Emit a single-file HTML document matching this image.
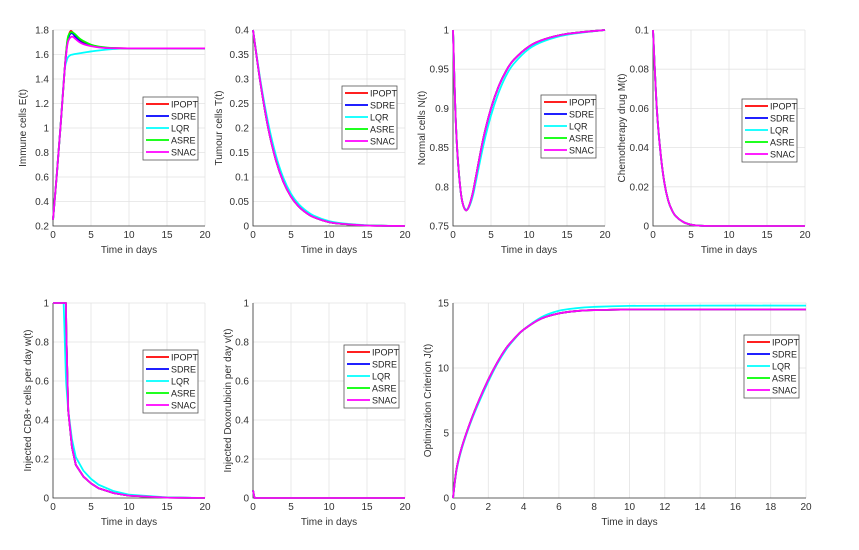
<!DOCTYPE html>
<html><head><meta charset="utf-8"><style>
html,body{margin:0;padding:0;background:#fff;}
svg{display:block;font-family:"Liberation Sans",Arial,sans-serif;}
</style></head><body>
<svg id="fig" width="859" height="550" viewBox="0 0 859 550"></svg>
<script>
// ---- Data ----
const seriesNames = ["IPOPT","SDRE","LQR","ASRE","SNAC"];
// Immune cells E(t)
const tE = [0,0.5,1,1.5,1.8,2,2.3,2.6,3,3.5,4,5,6,7,8,10,15,20];
const E_IPOPT = [0.25,0.62,1.02,1.45,1.66,1.74,1.79,1.78,1.75,1.72,1.70,1.675,1.662,1.655,1.652,1.65,1.65,1.65];
const E_SDRE  = [0.25,0.62,1.02,1.45,1.65,1.73,1.77,1.77,1.74,1.71,1.69,1.672,1.660,1.654,1.651,1.65,1.65,1.65];
const E_LQR   = [0.25,0.62,1.02,1.45,1.55,1.58,1.595,1.60,1.605,1.61,1.615,1.625,1.633,1.64,1.645,1.65,1.65,1.65];
const E_ASRE  = [0.25,0.62,1.02,1.45,1.67,1.75,1.78,1.78,1.76,1.73,1.71,1.68,1.665,1.657,1.652,1.65,1.65,1.65];
const E_SNAC  = [0.25,0.62,1.02,1.45,1.64,1.71,1.74,1.745,1.725,1.70,1.685,1.668,1.658,1.653,1.651,1.65,1.65,1.65];
// Tumour cells T(t)
const tT = [0,1,2,3,4,5,6,7,8,10,12,15,20];
const T_main = [0.4,0.29,0.2,0.135,0.09,0.06,0.04,0.027,0.018,0.008,0.004,0.001,0];
const T_LQR  = [0.4,0.295,0.21,0.145,0.098,0.066,0.045,0.031,0.021,0.01,0.005,0.0015,0];
// Normal cells N(t)
const tN = [0,0.3,0.6,1,1.3,1.7,2.1,2.6,3,4,5,6,7,8,10,12,15,20];
const N_main = [1,0.9,0.84,0.795,0.778,0.77,0.775,0.792,0.812,0.862,0.9,0.928,0.948,0.962,0.979,0.988,0.995,1];
const N_LQR  = [1,0.9,0.84,0.795,0.778,0.771,0.774,0.788,0.806,0.853,0.891,0.92,0.942,0.957,0.976,0.986,0.994,1];
// Chemotherapy drug M(t)
const tM = [0,0.5,1,1.5,2,2.5,3,4,5,6,8,10,20];
const M_main = [0.1,0.06,0.037,0.022,0.013,0.008,0.005,0.002,0.0007,0.0002,0,0,0];
// Injected CD8+ w(t)
const tW = [0,1.3,1.4,1.7,1.75,2,2.5,3,4,5,6,8,10,15,20];
const W_main = [1,1,1,1,0.85,0.45,0.26,0.17,0.11,0.075,0.05,0.025,0.012,0.002,0];
const W_LQR  = [1,1,1,0.62,0.58,0.45,0.3,0.21,0.14,0.098,0.068,0.035,0.017,0.003,0];
// Injected Doxorubicin v(t)
const tV = [0,0.2,1,20];
const V_main = [0.04,0,0,0];
// Optimization criterion J(t)
const tJ = [0,0.2,0.5,1,1.5,2,2.5,3,3.5,4,5,6,7,8,10,14,20];
const J_main = [0,2.2,3.9,5.9,7.6,9.1,10.4,11.5,12.3,12.95,13.8,14.2,14.38,14.45,14.5,14.5,14.5];
const J_LQR  = [0,2.1,3.8,5.8,7.45,8.95,10.3,11.4,12.25,12.95,13.9,14.4,14.6,14.7,14.78,14.8,14.8];

const colors = {IPOPT:"#ff0000",SDRE:"#0000ff",LQR:"#00ffff",ASRE:"#00ff00",SNAC:"#ff00ff"};
const NS="http://www.w3.org/2000/svg";
const fig=document.getElementById('fig');
function mk(tag,attrs,parent){const e=document.createElementNS(NS,tag);for(const k in attrs)e.setAttribute(k,attrs[k]);(parent||fig).appendChild(e);return e;}
function smoothPath(pts){
  let d='M'+pts[0][0].toFixed(2)+','+pts[0][1].toFixed(2);
  for(let i=0;i<pts.length-1;i++){
    const p0=pts[Math.max(0,i-1)],p1=pts[i],p2=pts[i+1],p3=pts[Math.min(pts.length-1,i+2)];
    const c1x=p1[0]+(p2[0]-p0[0])/6,c1y=p1[1]+(p2[1]-p0[1])/6;
    const c2x=p2[0]-(p3[0]-p1[0])/6,c2y=p2[1]-(p3[1]-p1[1])/6;
    d+=`C${c1x.toFixed(2)},${c1y.toFixed(2)} ${c2x.toFixed(2)},${c2y.toFixed(2)} ${p2[0].toFixed(2)},${p2[1].toFixed(2)}`;
  }
  return d;
}

function chart(cfg){
  const g=mk('g',{});
  
  
  const {x0,x1,y0,y1,xmin,xmax,ymin,ymax}=cfg;
  const sx=v=>x0+(v-xmin)/(xmax-xmin)*(x1-x0);
  const sy=v=>y1-(v-ymin)/(ymax-ymin)*(y1-y0);
  mk('rect',{x:x0,y:y0,width:x1-x0,height:y1-y0,fill:'#fff'},g);
  cfg.xticks.forEach(v=>{
    const l=mk('line',{x1:sx(v),x2:sx(v),y1:y0,y2:y1,stroke:'#e3e3e3','stroke-width':0.8},g);
    
    
    const t=mk('text',{x:sx(v),y:y1+12,'font-size':10,'text-anchor':'middle',fill:'#333'},g);
    t.textContent=v;
    
    
  });
  cfg.yticks.forEach((v,i)=>{
    const l=mk('line',{x1:x0,x2:x1,y1:sy(v),y2:sy(v),stroke:'#e3e3e3','stroke-width':0.8},g);
    
    
    const t=mk('text',{x:x0-4,y:sy(v)+3.5,'font-size':10,'text-anchor':'end',fill:'#333'},g);
    t.textContent=cfg.ylabels[i];
    
    
  });
  const ax=mk('path',{d:`M${x0},${y0}V${y1}H${x1}`,fill:'none',stroke:'#333','stroke-width':0.8},g);
  
  
  seriesNames.forEach(n=>{
    const ys=cfg.series[n];
    const pts=cfg.t.map((tv,i)=>[sx(tv),sy(ys[i])]);
    const d=cfg.smooth?smoothPath(pts):pts.map((p,i)=>(i?'L':'M')+p[0].toFixed(2)+','+p[1].toFixed(2)).join('');
    const p=mk('path',{d:d,fill:'none',stroke:colors[n],'stroke-width':1.8,'stroke-linejoin':'round'},g);
    
    
  });
  const xl=mk('text',{x:(x0+x1)/2,y:y1+27,'font-size':10,'text-anchor':'middle',fill:'#333'},g);
  xl.textContent='Time in days';
  
  
  const yx=x0-cfg.ylOff, yy=(y0+y1)/2;
  const yl=mk('text',{x:yx,y:yy,'font-size':10,'text-anchor':'middle',fill:'#333',transform:`rotate(-90 ${yx} ${yy})`},g);
  yl.textContent=cfg.ytitle;
  
  
  const lg=mk('g',{},g);
  
  
  mk('rect',{x:cfg.lx,y:cfg.ly,width:55,height:63,fill:'#fff',stroke:'#555','stroke-width':0.8},lg);
  seriesNames.forEach((n,i)=>{
    const yy2=cfg.ly+7+i*12;
    mk('line',{x1:cfg.lx+3,x2:cfg.lx+26,y1:yy2,y2:yy2,stroke:colors[n],'stroke-width':1.8},lg);
    const t=mk('text',{x:cfg.lx+28,y:yy2+3.3,'font-size':9,fill:'#222'},lg);
    t.textContent=n;
    
    
  });
}
const same=a=>({IPOPT:a,SDRE:a,LQR:a,ASRE:a,SNAC:a});
const x20=[0,5,10,15,20];
chart({name:'immune-cells-chart',smooth:true,x0:53,x1:205,y0:30,y1:226,xmin:0,xmax:20,ymin:0.2,ymax:1.8,xticks:x20,
  yticks:[0.2,0.4,0.6,0.8,1,1.2,1.4,1.6,1.8],ylabels:['0.2','0.4','0.6','0.8','1','1.2','1.4','1.6','1.8'],
  t:tE,series:{IPOPT:E_IPOPT,SDRE:E_SDRE,LQR:E_LQR,ASRE:E_ASRE,SNAC:E_SNAC},ytitle:'Immune cells E(t)',ylOff:27,lx:143,ly:97});
chart({name:'tumour-cells-chart',smooth:true,x0:253,x1:405,y0:30,y1:226,xmin:0,xmax:20,ymin:0,ymax:0.4,xticks:x20,
  yticks:[0,0.05,0.1,0.15,0.2,0.25,0.3,0.35,0.4],ylabels:['0','0.05','0.1','0.15','0.2','0.25','0.3','0.35','0.4'],
  t:tT,series:Object.assign(same(T_main),{LQR:T_LQR}),ytitle:'Tumour cells T(t)',ylOff:31,lx:342,ly:86});
chart({name:'normal-cells-chart',smooth:true,x0:453,x1:605,y0:30,y1:226,xmin:0,xmax:20,ymin:0.75,ymax:1,xticks:x20,
  yticks:[0.75,0.8,0.85,0.9,0.95,1],ylabels:['0.75','0.8','0.85','0.9','0.95','1'],
  t:tN,series:Object.assign(same(N_main),{LQR:N_LQR}),ytitle:'Normal cells N(t)',ylOff:28,lx:541,ly:95});
chart({name:'chemotherapy-chart',smooth:true,x0:653,x1:805,y0:30,y1:226,xmin:0,xmax:20,ymin:0,ymax:0.1,xticks:x20,
  yticks:[0,0.02,0.04,0.06,0.08,0.1],ylabels:['0','0.02','0.04','0.06','0.08','0.1'],
  t:tM,series:same(M_main),ytitle:'Chemotherapy drug M(t)',ylOff:28,lx:742,ly:99});
chart({name:'cd8-injection-chart',smooth:false,x0:53,x1:205,y0:303,y1:498,xmin:0,xmax:20,ymin:0,ymax:1,xticks:x20,
  yticks:[0,0.2,0.4,0.6,0.8,1],ylabels:['0','0.2','0.4','0.6','0.8','1'],
  t:tW,series:Object.assign(same(W_main),{LQR:W_LQR}),ytitle:'Injected CD8+ cells per day w(t)',ylOff:22,lx:143,ly:350});
chart({name:'doxorubicin-chart',smooth:false,x0:253,x1:405,y0:303,y1:498,xmin:0,xmax:20,ymin:0,ymax:1,xticks:x20,
  yticks:[0,0.2,0.4,0.6,0.8,1],ylabels:['0','0.2','0.4','0.6','0.8','1'],
  t:tV,series:same(V_main),ytitle:'Injected Doxorubicin per day v(t)',ylOff:22,lx:344,ly:345});
chart({name:'optimization-criterion-chart',smooth:true,x0:453,x1:806,y0:303,y1:498,xmin:0,xmax:20,ymin:0,ymax:15,
  xticks:[0,2,4,6,8,10,12,14,16,18,20],yticks:[0,5,10,15],ylabels:['0','5','10','15'],
  t:tJ,series:Object.assign(same(J_main),{LQR:J_LQR}),ytitle:'Optimization Criterion J(t)',ylOff:22,lx:744,ly:335});
</script>
</body></html>
